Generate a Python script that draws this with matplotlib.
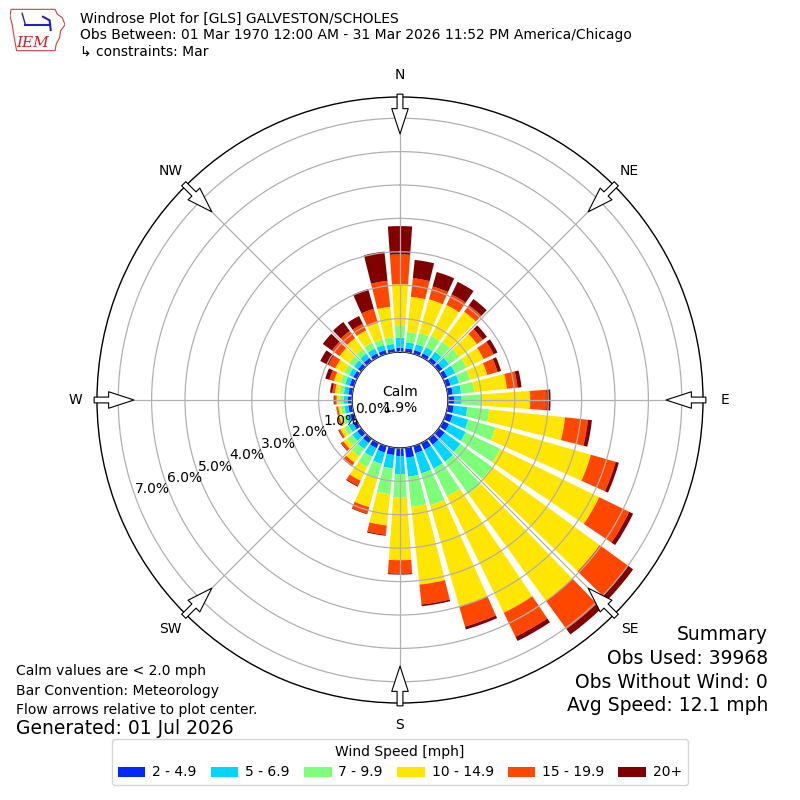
import numpy as np
import matplotlib
matplotlib.use('Agg')
import matplotlib.pyplot as plt
from matplotlib.patches import Patch, Polygon

# wind directions (deg) and speed bins (mph)
directions = np.arange(0, 360, 10)
speed_labels = ['2 - 4.9', '5 - 6.9', '7 - 9.9', '10 - 14.9', '15 - 19.9', '20+']

# frequency [%] of obs for each direction, one list per speed bin
pct_2_5 = [0.13, 0.12, 0.12, 0.12, 0.13, 0.14, 0.14, 0.14, 0.15, 0.18, 0.18, 0.20,
           0.20, 0.22, 0.22, 0.22, 0.22, 0.30, 0.24, 0.22, 0.20, 0.17, 0.16, 0.15,
           0.13, 0.12, 0.12, 0.12, 0.12, 0.13, 0.12, 0.12, 0.12, 0.12, 0.12, 0.10]
pct_5_7 = [0.30, 0.18, 0.18, 0.20, 0.22, 0.24, 0.26, 0.26, 0.25, 0.23, 0.41, 0.49,
           0.55, 0.58, 0.63, 0.63, 0.63, 0.57, 0.54, 0.40, 0.35, 0.28, 0.22, 0.18,
           0.15, 0.13, 0.12, 0.12, 0.13, 0.14, 0.14, 0.15, 0.16, 0.16, 0.16, 0.15]
pct_7_10 = [0.35, 0.31, 0.35, 0.38, 0.37, 0.37, 0.38, 0.35, 0.40, 0.60, 0.66, 0.85,
            1.15, 1.17, 1.20, 0.92, 0.99, 0.91, 0.71, 0.78, 0.45, 0.35, 0.27, 0.19,
            0.14, 0.11, 0.10, 0.12, 0.13, 0.15, 0.16, 0.18, 0.18, 0.19, 0.17, 0.21]
pct_10_15 = [1.25, 1.06, 1.05, 1.03, 1.11, 0.66, 0.57, 0.53, 0.98, 1.45, 2.28, 2.97,
             3.30, 3.98, 3.95, 3.88, 3.15, 2.34, 1.87, 0.94, 0.90, 0.45, 0.23, 0.14,
             0.13, 0.08, 0.08, 0.10, 0.14, 0.20, 0.30, 0.35, 0.39, 0.41, 0.52, 0.91]
pct_15_20 = [0.89, 0.56, 0.40, 0.35, 0.24, 0.21, 0.33, 0.32, 0.32, 0.49, 0.69, 0.77,
             1.00, 1.05, 1.04, 0.80, 0.63, 0.60, 0.40, 0.28, 0.20, 0.17, 0.12, 0.08,
             0.05, 0.05, 0.05, 0.06, 0.08, 0.14, 0.23, 0.28, 0.27, 0.22, 0.43, 0.78]
pct_20p = [0.85, 0.55, 0.45, 0.42, 0.23, 0.16, 0.13, 0.11, 0.12, 0.12, 0.12, 0.10,
           0.13, 0.19, 0.20, 0.14, 0.09, 0.05, 0.03, 0.03, 0.02, 0.03, 0.02, 0.02,
           0.02, 0.01, 0.01, 0.03, 0.07, 0.13, 0.27, 0.34, 0.33, 0.26, 0.62, 0.88]

calm_pct = 1.9
ring_values = [0, 1, 2, 3, 4, 5, 6, 7]
compass_angles = [0, 45, 90, 135, 180, 225, 270, 315]
compass_labels = ['N', 'NE', 'E', 'SE', 'S', 'SW', 'W', 'NW']
summary_lines = ['Summary', 'Obs Used: 39968', 'Obs Without Wind: 0',
                 'Avg Speed: 12.1 mph']

colors = plt.get_cmap('jet')(np.linspace(0, 1, 7)[1:])

fig = plt.figure(figsize=(8, 8), dpi=100)
ax = fig.add_axes([0.12125, 0.12125, 0.7575, 0.7575], projection='polar')
ax.set_theta_zero_location('N')
ax.set_theta_direction(-1)

theta = np.deg2rad(directions)
bins = [pct_2_5, pct_5_7, pct_7_10, pct_10_15, pct_15_20, pct_20p]
bottom = np.zeros(len(directions))
for vals, col in zip(bins, colors):
    vals = np.array(vals)
    ax.bar(theta, vals, width=np.deg2rad(8), bottom=bottom, color=col,
           linewidth=0, zorder=1)
    bottom = bottom + vals

ax.set_rorigin(-1.437)
ax.set_ylim(0, 7.635)
ax.set_axisbelow(False)
ax.grid(True, color='#b0b0b0', lw=0.9)
ax.set_rgrids(ring_values, labels=[''] * len(ring_values))
for v in ring_values:
    ax.text(np.deg2rad(250), v, '%.1f%%' % v, ha='left', va='bottom', fontsize=10)
ax.set_thetagrids(compass_angles, labels=compass_labels, fontsize=10)
ax.tick_params(axis='x', pad=5)
ax.spines['polar'].set_linewidth(1.0)
ax.spines['inner'].set_linewidth(1.0)

# flow arrows at the rim
for ang in compass_angles:
    ax.annotate('', xy=(np.deg2rad(ang), 6.53), xytext=(np.deg2rad(ang), 7.72),
                annotation_clip=False,
                arrowprops=dict(arrowstyle='simple,head_length=1.3,head_width=0.85,tail_width=0.3',
                                fc='white', ec='black', lw=0.8, shrinkA=0, shrinkB=0,
                                mutation_scale=14), zorder=5)

ax.text(0.5, 0.5, 'Calm\n%.1f%%' % calm_pct, transform=ax.transAxes,
        ha='center', va='center', fontsize=10, multialignment='center')

# header
fig.text(0.1, 1 - 12 / 800., 'Windrose Plot for [GLS] GALVESTON/SCHOLES\n'
         'Obs Between: 01 Mar 1970 12:00 AM - 31 Mar 2026 11:52 PM America/Chicago\n'
         '\u21b3 constraints: Mar', va='top', ha='left', fontsize=10)

# logo (rough)
lax = fig.add_axes([10 / 800., 1 - 52 / 800., 55 / 800., 44 / 800.])
lax.set_xlim(0, 1)
lax.set_ylim(0, 1)
lax.axis('off')
outline = [(0.02, 0.97), (0.82, 0.97), (0.86, 0.86), (0.95, 0.78), (1.0, 0.62),
           (0.92, 0.48), (0.9, 0.32), (0.84, 0.18), (0.82, 0.03), (0.12, 0.03),
           (0.08, 0.3), (0.04, 0.62), (0.0, 0.82)]
lax.add_patch(Polygon(outline, closed=True, fill=False, ec='#d04040', lw=0.8))
lax.text(0.42, 0.2, 'IEM', color='#d02020', fontsize=11, family='serif',
         style='italic', ha='center', va='center')
lax.plot([0.28, 0.72], [0.62, 0.62], color='#2020c0', lw=1.5)
lax.plot([0.28, 0.22], [0.62, 0.88], color='#2020c0', lw=1)
lax.plot([0.6, 0.72, 0.74], [0.8, 0.72, 0.5], color='#2020c0', lw=1.5)

# notes
fig.text(0.02, 0.16125, 'Calm values are < 2.0 mph', fontsize=10, va='center')
fig.text(0.02, 0.13625, 'Bar Convention: Meteorology', fontsize=10, va='center')
fig.text(0.02, 0.1125, 'Flow arrows relative to plot center.', fontsize=10, va='center')
fig.text(0.02, 0.08875, 'Generated: 01 Jul 2026', fontsize=13.5, va='center')

for i, line in enumerate(summary_lines):
    fig.text(0.96, (800 - 635 - 23.5 * i) / 800., line, ha='right', va='center',
             fontsize=13.5)

handles = [Patch(facecolor=c, label=l) for c, l in zip(colors, speed_labels)]
fig.legend(handles=handles, ncol=6, loc='lower center', bbox_to_anchor=(0.5, 0.01),
           title='Wind Speed [mph]', fontsize=10, title_fontsize=10,
           handletextpad=0.5, columnspacing=1.0)

fig.savefig('out.png', dpi=100)
